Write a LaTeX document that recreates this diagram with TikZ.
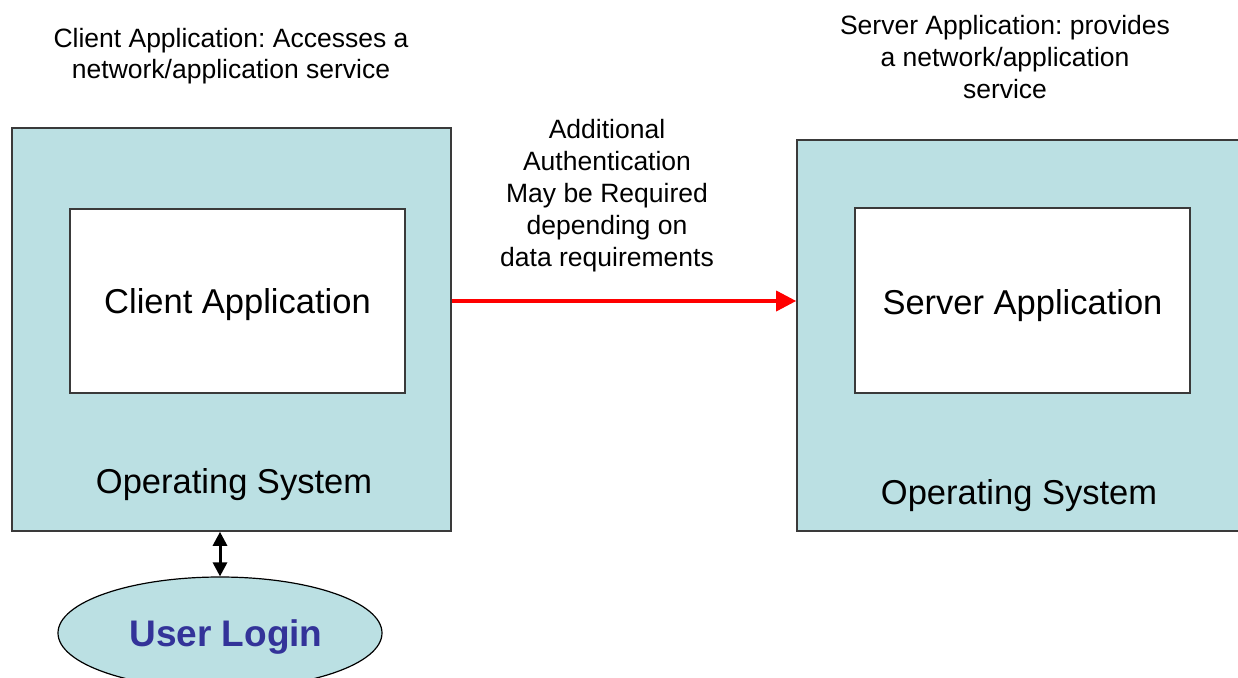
\documentclass[tikz,border=0pt]{standalone}
\usepackage{fontspec}
\setmainfont{Liberation Sans}
\usetikzlibrary{shapes.geometric,arrows.meta}
\frenchspacing
\definecolor{osfill}{HTML}{BBE0E3}
\definecolor{edge}{HTML}{3A3A3A}
\definecolor{loginblue}{HTML}{333399}
\tikzset{
  osbox/.style={draw=edge, line width=1.6pt, fill=osfill, inner sep=0pt},
  appbox/.style={draw=edge, line width=1.4pt, fill=white, inner sep=0pt,
    font=\fontsize{34.5}{40}\selectfont},
  oslabel/.style={font=\fontsize{34.5}{40}\selectfont, inner sep=0pt},
  note/.style={align=center, inner sep=0pt},
  loginshape/.style={ellipse, draw=black, line width=1.2pt, fill=osfill, inner sep=0pt,
    minimum width=324pt, minimum height=112pt},
  linkarrow/.style={draw=red, line width=3.5pt, -{Triangle[length=20pt,width=20pt]}},
  userarrow/.style={draw=black, line width=3pt,
    {Triangle[length=14pt,width=14pt]}-{Triangle[length=14pt,width=14pt]}}
}
\begin{document}
\begin{tikzpicture}[x=1pt,y=-1pt]
  \useasboundingbox (0,0) rectangle (1238,677);
  \clip (0,0) rectangle (1238,677);

  % client side
  \node[osbox, minimum width=439pt, minimum height=403pt] (cos) at (231.5,329.5) {};
  \node[appbox, minimum width=335pt, minimum height=184pt] (capp) at (237.5,301) {};
  \node[oslabel] (cappl) at (237.5,305) {Client Application};
  \node[oslabel] (cosl) at (234,485) {Operating System};

  % server side
  \node[osbox, minimum width=463pt, minimum height=391pt] (sos) at (1028.5,335.5) {};
  \node[appbox, minimum width=335pt, minimum height=185pt] (sapp) at (1022.5,300.5) {};
  \node[oslabel] (sappl) at (1022.5,305.5) {Server Application};
  \node[oslabel] (sosl) at (1019,496) {Operating System};

  % captions
  \node[note, font=\fontsize{26.5}{31}\selectfont] (ccap) at (231,56.5)
    {Client Application: Accesses a\\network/application service};
  \node[note, font=\fontsize{26.5}{32}\selectfont] (scap) at (1005,57.5)
    {Server Application: provides\\a network/application\\service};
  \node[note, font=\fontsize{26.5}{32}\selectfont] (auth) at (607,196)
    {Additional\\Authentication\\May be Required\\depending on\\data requirements};

  % user login
  \node[loginshape] (login) at (220,633) {};
  \node[font=\bfseries\fontsize{37}{42}\selectfont, text=loginblue, inner sep=0pt] (loginl) at (226,637) {User Login};

  % connectors
  \draw[linkarrow] (cos.east |- capp.center) -- (sos.west |- capp.center);
  \draw[userarrow] (login.north |- cos.south) -- (login.north);
\end{tikzpicture}
\end{document}
